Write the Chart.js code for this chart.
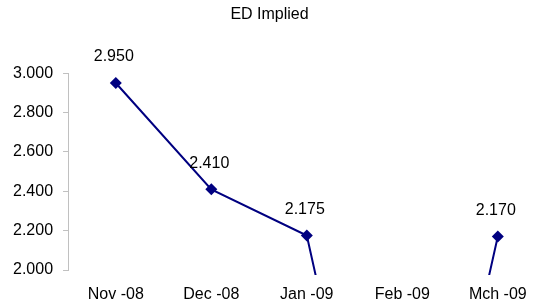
<!DOCTYPE html>
<html>
<head>
<meta charset="utf-8">
<script src="https://cdn.jsdelivr.net/npm/chart.js@4/dist/chart.umd.min.js"></script>
<style>
    body { margin: 0; background: #fff; }
    #wrap { width: 536px; height: 307px; position: relative; }
</style>
</head>
<body>
<div id="wrap"><canvas id="myChart"></canvas></div>
<script>
// chart data
const categories = ["Nov -08", "Dec -08", "Jan -09", "Feb -09", "Mch -09"];
const impliedValues = [2.950, 2.410, 2.175, 0, 2.170];
const yTickValues = [2.0, 2.2, 2.4, 2.6, 2.8, 3.0];
const chartTitle = "ED Implied";

const yMin = 2.0;
const yMax = 3.0;

// value labels above the markers (only the ones inside the axis range)
const valueLabels = {
    id: 'valueLabels',
    afterDatasetsDraw(chart) {
        const ctx = chart.ctx;
        const meta = chart.getDatasetMeta(0);
        ctx.save();
        ctx.font = '16px "Liberation Sans", Arial, sans-serif';
        ctx.fillStyle = '#000';
        ctx.textAlign = 'center';
        ctx.textBaseline = 'middle';
        meta.data.forEach((pt, i) => {
            let v = impliedValues[i];
            if (v < yMin || v > yMax) return;
            ctx.fillText(v.toFixed(3), pt.x - 2, pt.y - 26);
        });
        ctx.restore();
    }
};

Chart.defaults.color = '#000';
Chart.defaults.font.family = '"Liberation Sans", Arial, sans-serif';
Chart.defaults.font.size = 16;

const ctx = document.getElementById('myChart').getContext('2d');
const myChart = new Chart(ctx, {
    type: 'line',
    data: {
        datasets: [{
            label: chartTitle,
            data: impliedValues.map((v, i) => ({ x: i, y: v })),
            borderColor: '#000080',
            borderWidth: 2,
            tension: 0,
            fill: false,
            pointStyle: 'rectRot',
            pointRadius: impliedValues.map(v => (v < yMin || v > yMax) ? 0 : 6),
            pointBackgroundColor: '#000080',
            pointBorderColor: '#000080',
            pointBorderWidth: 0,
            clip: { left: 10, top: 10, right: 10, bottom: 5 }
        }]
    },
    options: {
        animation: false,
        responsive: true,
        maintainAspectRatio: false,
        layout: {
            autoPadding: false,
            padding: { left: 3, right: 0, top: 0, bottom: 0 }
        },
        plugins: {
            legend: { display: false },
            tooltip: { enabled: false },
            title: {
                display: true,
                text: chartTitle,
                color: '#000',
                font: { size: 16, weight: 'normal' },
                padding: { top: 5, bottom: 49 }
            }
        },
        scales: {
            x: {
                type: 'linear',
                min: -0.5,
                max: 4.4,
                afterBuildTicks: scale => {
                    scale.ticks = categories.map((c, i) => ({ value: i }));
                },
                afterFit: scale => {
                    scale.height = 37;
                    scale.paddingLeft = 0;
                    scale.paddingRight = 0;
                },
                ticks: {
                    padding: 15,
                    maxRotation: 0,
                    callback: v => categories[v]
                },
                grid: { display: false, drawTicks: false },
                border: { display: false }
            },
            y: {
                min: yMin,
                max: yMax,
                afterBuildTicks: scale => {
                    scale.ticks = yTickValues.map(v => ({ value: v }));
                },
                ticks: {
                    padding: 10,
                    callback: v => Number(v).toFixed(3)
                },
                grid: {
                    drawOnChartArea: false,
                    color: '#c0c0c0',
                    tickLength: 5
                },
                border: { color: '#c0c0c0', width: 1 }
            }
        }
    },
    plugins: [valueLabels]
});
</script>
</body>
</html>
